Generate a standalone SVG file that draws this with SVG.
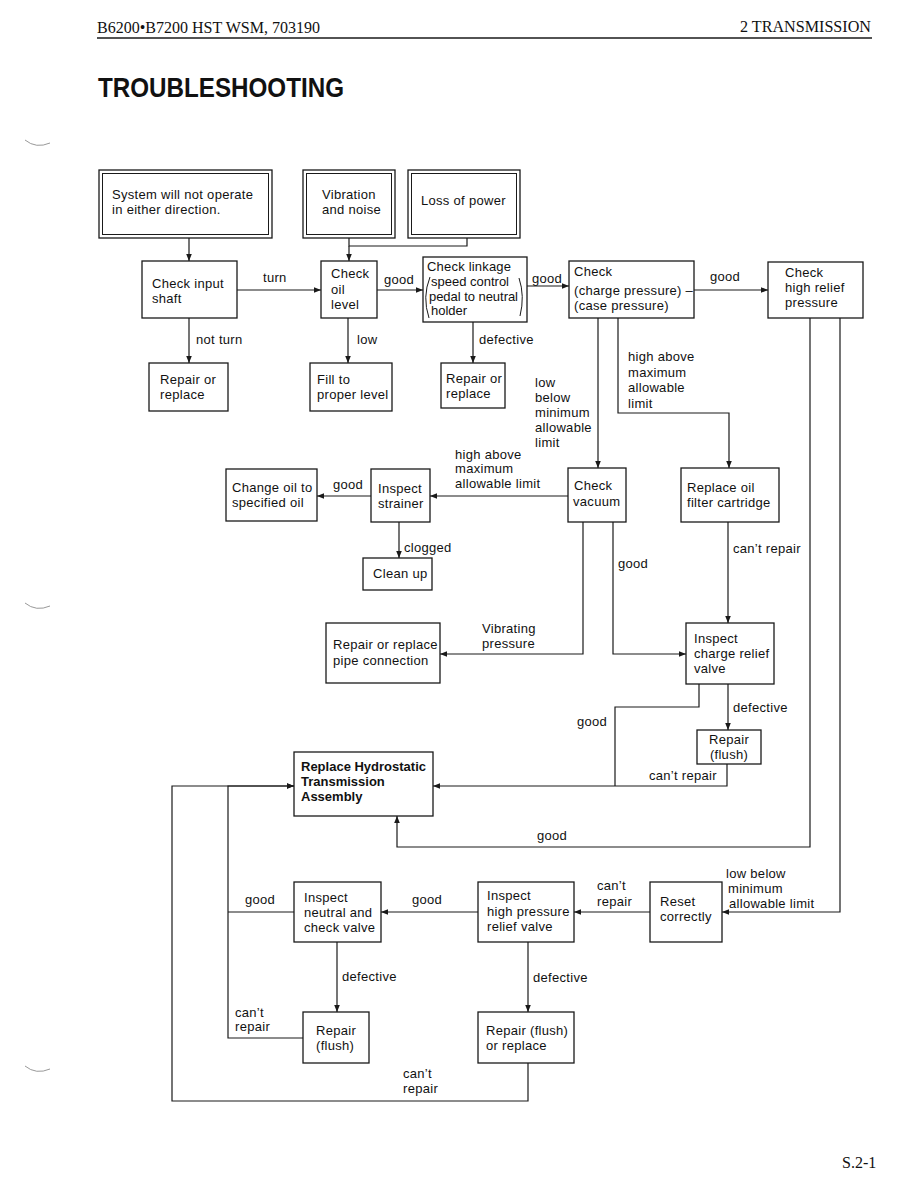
<svg xmlns="http://www.w3.org/2000/svg" width="918" height="1188" viewBox="0 0 918 1188">
<defs>
<marker id="ah" viewBox="0 0 10 10" refX="10" refY="5" markerWidth="7" markerHeight="7" markerUnits="userSpaceOnUse" orient="auto">
<path d="M0,1 L10,5 L0,9 Z" fill="#1a1a1a"/>
</marker>
<style>
.b{fill:#fff;stroke:#1a1a1a;stroke-width:1.3}
.bi{fill:none;stroke:#1a1a1a;stroke-width:1}
.c{fill:none;stroke:#1a1a1a;stroke-width:1.2}
.a{marker-end:url(#ah)}
text{font-family:"Liberation Sans",Arial,sans-serif;font-size:13px;fill:#111;letter-spacing:0.3px}
.hd{font-family:"Liberation Serif","Times New Roman",serif;font-size:16px;letter-spacing:0}
.tt{font-weight:bold;font-size:28px;letter-spacing:0}
.bold{font-weight:bold;letter-spacing:0}
.tight{letter-spacing:0}
.mk{fill:none;stroke:#999;stroke-width:1}
</style>
</defs>
<rect width="918" height="1188" fill="#fff"/>

<g id="header">
<text class="hd" x="97" y="33" textLength="223" lengthAdjust="spacingAndGlyphs">B6200•B7200 HST WSM, 703190</text>
<text class="hd" x="740" y="32" textLength="131" lengthAdjust="spacingAndGlyphs">2  TRANSMISSION</text>
<line x1="97" y1="38" x2="872" y2="38" stroke="#1a1a1a" stroke-width="1.5"/>
<text class="tt" x="98" y="97" textLength="246" lengthAdjust="spacingAndGlyphs">TROUBLESHOOTING</text>
<text class="hd" x="842" y="1168">S.2-1</text>
</g>

<g id="binder-marks">
<path class="mk" d="M25,140 Q36,149 50,143"/>
<path class="mk" d="M25,603 Q36,612 50,606"/>
<path class="mk" d="M25,1066 Q36,1075 50,1069"/>
</g>

<g id="connectors">
<path class="c a" d="M189,238 V261"/>
<path class="c" d="M349,238 V246 H467 V238"/>
<path class="c a" d="M349,246 V261"/>
<path class="c a" d="M237,290 H321"/>
<path class="c a" d="M377,290 H423"/>
<path class="c a" d="M527,286 H569"/>
<path class="c a" d="M694,290 H768"/>
<path class="c a" d="M189,318 V363"/>
<path class="c a" d="M348,318 V363"/>
<path class="c a" d="M473,322 V363"/>
<path class="c a" d="M598,318 V468"/>
<path class="c a" d="M618,318 V413 H729 V468"/>
<path class="c a" d="M568,496 H430"/>
<path class="c a" d="M371,496 H317"/>
<path class="c a" d="M399,522 V558"/>
<path class="c a" d="M583,522 V654 H440"/>
<path class="c a" d="M613,522 V654 H686"/>
<path class="c a" d="M728,522 V623"/>
<path class="c" d="M699,684 V707 H615 V786"/>
<path class="c a" d="M728,684 V730"/>
<path class="c a" d="M727,764 V786 H433"/>
<path class="c a" d="M810,318 V847 H397 V816"/>
<path class="c a" d="M840,318 V912 H722"/>
<path class="c a" d="M650,912 H574"/>
<path class="c a" d="M478,912 H381"/>
<path class="c" d="M294,912 H228"/>
<path class="c a" d="M337,942 V1012"/>
<path class="c a" d="M528,942 V1012"/>
<path class="c a" d="M303,1038 H228 V786 H294"/>
<path class="c a" d="M528,1063 V1101 H172 V786 H294"/>
</g>

<g id="labels">
<text x="263" y="282">turn</text>
<text x="384" y="284">good</text>
<text x="532" y="283">good</text>
<text x="710" y="281">good</text>
<text x="196" y="344">not turn</text>
<text x="357" y="344">low</text>
<text x="479" y="344">defective</text>
<text x="535" y="387">low</text>
<text x="535" y="402">below</text>
<text x="535" y="417">minimum</text>
<text x="535" y="432">allowable</text>
<text x="535" y="447">limit</text>
<text x="628" y="361">high above</text>
<text x="628" y="377">maximum</text>
<text x="628" y="392">allowable</text>
<text x="628" y="408">limit</text>
<text x="455" y="459">high above</text>
<text x="455" y="473">maximum</text>
<text x="455" y="488">allowable limit</text>
<text x="333" y="489">good</text>
<text x="404" y="552">clogged</text>
<text x="618" y="568">good</text>
<text x="733" y="553">can’t repair</text>
<text x="482" y="633">Vibrating</text>
<text x="482" y="648">pressure</text>
<text x="733" y="712">defective</text>
<text x="577" y="726">good</text>
<text x="649" y="780">can’t repair</text>
<text x="537" y="840">good</text>
<text x="726" y="878">low below</text>
<text x="728" y="893">minimum</text>
<text x="729" y="908">allowable limit</text>
<text x="597" y="890">can’t</text>
<text x="597" y="906">repair</text>
<text x="245" y="904">good</text>
<text x="412" y="904">good</text>
<text x="342" y="981">defective</text>
<text x="533" y="982">defective</text>
<text x="235" y="1017">can’t</text>
<text x="235" y="1031">repair</text>
<text x="403" y="1078">can’t</text>
<text x="403" y="1093">repair</text>
</g>

<g id="n-system">
<rect class="b" x="99" y="170" width="173" height="68"/>
<rect class="bi" x="102.5" y="173.5" width="166" height="61"/>
<text x="112" y="199">System will not operate</text>
<text x="112" y="214">in either direction.</text>
</g>
<g id="n-vibration">
<rect class="b" x="303" y="170" width="92" height="68"/>
<rect class="bi" x="306.5" y="173.5" width="85" height="61"/>
<text x="322" y="199">Vibration</text>
<text x="322" y="214">and noise</text>
</g>
<g id="n-power">
<rect class="b" x="408" y="170" width="112" height="68"/>
<rect class="bi" x="411.5" y="173.5" width="105" height="61"/>
<text x="421" y="205">Loss of power</text>
</g>

<g id="n-input-shaft">
<rect class="b" x="142" y="261" width="95" height="57"/>
<text x="152" y="288">Check input</text>
<text x="152" y="303">shaft</text>
</g>
<g id="n-oil-level">
<rect class="b" x="321" y="261" width="56" height="57"/>
<text x="331" y="278">Check</text>
<text x="331" y="294">oil</text>
<text x="331" y="309">level</text>
</g>
<g id="n-linkage">
<rect class="b" x="423" y="257" width="104" height="65"/>
<text class="tight" x="427" y="271" textLength="84">Check linkage</text>
<text class="tight" x="431" y="286" textLength="78">speed control</text>
<text class="tight" x="429" y="301" textLength="89">pedal to neutral</text>
<text class="tight" x="431" y="315">holder</text>
<path class="bi" d="M430,277 Q422,297 429,318"/>
<path class="bi" d="M519,278 Q525,296 520,316"/>
</g>
<g id="n-charge">
<rect class="b" x="569" y="261" width="125" height="57"/>
<text x="574" y="276">Check</text>
<text x="574" y="295">(charge pressure) –</text>
<text x="574" y="310">(case pressure)</text>
</g>
<g id="n-high-relief">
<rect class="b" x="768" y="262" width="95" height="56"/>
<text x="785" y="277">Check</text>
<text x="785" y="292">high relief</text>
<text x="785" y="307">pressure</text>
</g>

<g id="n-repair1">
<rect class="b" x="149" y="363" width="79" height="48"/>
<text x="160" y="384">Repair or</text>
<text x="160" y="399">replace</text>
</g>
<g id="n-fill">
<rect class="b" x="310" y="363" width="82" height="48"/>
<text x="317" y="384">Fill to</text>
<text x="317" y="399">proper level</text>
</g>
<g id="n-repair2">
<rect class="b" x="441" y="363" width="64" height="45"/>
<text x="446" y="383">Repair or</text>
<text x="446" y="398">replace</text>
</g>

<g id="n-change-oil">
<rect class="b" x="226" y="469" width="91" height="52"/>
<text x="232" y="492">Change oil to</text>
<text x="232" y="507">specified oil</text>
</g>
<g id="n-strainer">
<rect class="b" x="371" y="469" width="59" height="53"/>
<text x="378" y="493">Inspect</text>
<text x="378" y="508">strainer</text>
</g>
<g id="n-vacuum">
<rect class="b" x="568" y="468" width="58" height="54"/>
<text x="574" y="490">Check</text>
<text x="573" y="506">vacuum</text>
</g>
<g id="n-filter">
<rect class="b" x="681" y="468" width="98" height="54"/>
<text x="687" y="492">Replace oil</text>
<text x="687" y="507">filter cartridge</text>
</g>
<g id="n-clean">
<rect class="b" x="363" y="558" width="69" height="32"/>
<text x="373" y="578">Clean up</text>
</g>

<g id="n-pipe">
<rect class="b" x="326" y="623" width="114" height="60"/>
<text x="333" y="649">Repair or replace</text>
<text x="333" y="665">pipe connection</text>
</g>
<g id="n-charge-relief">
<rect class="b" x="686" y="623" width="88" height="61"/>
<text x="694" y="643">Inspect</text>
<text x="694" y="658">charge relief</text>
<text x="694" y="673">valve</text>
</g>
<g id="n-repair-flush1">
<rect class="b" x="697" y="730" width="64" height="34"/>
<text x="729" y="744" text-anchor="middle">Repair</text>
<text x="729" y="759" text-anchor="middle">(flush)</text>
</g>
<g id="n-hst">
<rect class="b" x="294" y="752" width="139" height="64"/>
<text class="bold" x="301" y="771">Replace Hydrostatic</text>
<text class="bold" x="301" y="786">Transmission</text>
<text class="bold" x="301" y="801">Assembly</text>
</g>

<g id="n-neutral">
<rect class="b" x="294" y="882" width="87" height="60"/>
<text x="304" y="902">Inspect</text>
<text x="304" y="917">neutral and</text>
<text x="304" y="932">check valve</text>
</g>
<g id="n-hp-relief">
<rect class="b" x="478" y="882" width="96" height="60"/>
<text x="487" y="900">Inspect</text>
<text x="487" y="916">high pressure</text>
<text x="487" y="931">relief valve</text>
</g>
<g id="n-reset">
<rect class="b" x="650" y="882" width="72" height="60"/>
<text x="660" y="906">Reset</text>
<text x="660" y="921">correctly</text>
</g>
<g id="n-repair-flush2">
<rect class="b" x="303" y="1012" width="66" height="51"/>
<text x="316" y="1035">Repair</text>
<text x="316" y="1050">(flush)</text>
</g>
<g id="n-repair-flush3">
<rect class="b" x="478" y="1012" width="96" height="51"/>
<text x="486" y="1035">Repair (flush)</text>
<text x="486" y="1050">or replace</text>
</g>
</svg>
